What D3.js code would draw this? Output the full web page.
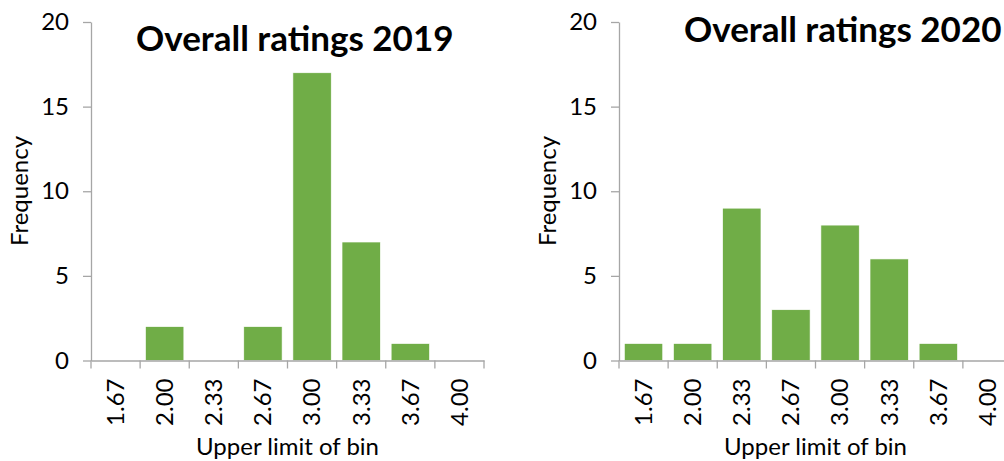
<!DOCTYPE html>
<html><head><meta charset="utf-8">
<script src="https://cdn.jsdelivr.net/npm/d3@7"></script>
<style>
html,body{margin:0;padding:0;background:#fff;}
svg{display:block;font-family:Lato,"Open Sans",sans-serif;}
</style></head>
<body>
<svg id="c" width="1004" height="461"></svg>
<script>
const bins = ["1.67","2.00","2.33","2.67","3.00","3.33","3.67","4.00"];
const freq2019 = [0,2,0,2,17,7,1,0];
const freq2020 = [1,1,9,3,8,6,1,0];
const yTicks = [0,5,10,15,20];
const titles = ["Overall ratings 2019","Overall ratings 2020"];

const svg = d3.select("#c");
const panels = [
  {values:freq2019, title:titles[0], x0:91, x1:484, titleX:136, titleY:51},
  {values:freq2020, title:titles[1], x0:619, x1:1012, titleX:684, titleY:42}
];
const yTop = 22, yBot = 360.5;
const axisColor = "#a6a6a6";
const fs = 24;

panels.forEach(p=>{
  const g = svg.append("g");
  const xb = d3.scaleBand().domain(bins).range([p.x0,p.x1]);
  const y = d3.scaleLinear().domain([0,20]).range([yBot,yTop]);
  const bw = xb.bandwidth()*0.78;

  g.selectAll("rect.bar").data(p.values.map((v,i)=>({b:bins[i],v}))).join("rect")
    .attr("class","bar")
    .attr("x",d=>xb(d.b)+(xb.bandwidth()-bw)/2)
    .attr("width",bw)
    .attr("y",d=>y(d.v))
    .attr("height",d=>yBot-y(d.v))
    .attr("fill","#70ad47")
    .attr("stroke","#ffffff").attr("stroke-width",0.6);

  const ya = g.append("g").attr("transform",`translate(${p.x0},0)`)
    .call(d3.axisLeft(y).tickValues(yTicks).tickSize(8).tickPadding(14).tickSizeOuter(0));
  ya.select(".domain").attr("stroke",axisColor).attr("stroke-width",1.3);
  ya.selectAll(".tick line").attr("stroke",axisColor).attr("stroke-width",1.3);
  ya.selectAll(".tick text").attr("font-size",fs).attr("font-family","Lato").attr("fill","#000");

  const xa = g.append("g").attr("transform",`translate(0,${yBot})`)
    .call(d3.axisBottom(xb).tickSize(0).tickSizeOuter(0));
  xa.select(".domain").attr("stroke",axisColor).attr("stroke-width",1.3);
  xa.selectAll(".tick line").remove();
  const bounds = bins.map(b=>xb(b)).concat([p.x1]);
  xa.selectAll("line.bt").data(bounds).join("line").attr("class","bt")
    .attr("x1",d=>d).attr("x2",d=>d).attr("y1",0).attr("y2",8)
    .attr("stroke",axisColor).attr("stroke-width",1.3);
  xa.selectAll(".tick text")
    .attr("font-size",fs).attr("font-family","Lato").attr("fill","#000")
    .attr("transform","rotate(-90)")
    .attr("text-anchor","end")
    .attr("x",-18).attr("y",0).attr("dy","0.35em");

  g.append("text").text("Upper limit of bin")
    .attr("x",(p.x0+p.x1)/2).attr("y",455)
    .attr("text-anchor","middle").attr("font-size",fs).attr("fill","#000");
  g.append("text").text("Frequency")
    .attr("transform",`translate(${p.x0-71},191) rotate(-90)`)
    .attr("text-anchor","middle").attr("dy","0.35em").attr("font-size",fs).attr("fill","#000");

  g.append("text").text(p.title)
    .attr("x",p.titleX).attr("y",p.titleY)
    .attr("font-weight","bold").attr("font-size",35).attr("fill","#000");
});
</script>
</body></html>
